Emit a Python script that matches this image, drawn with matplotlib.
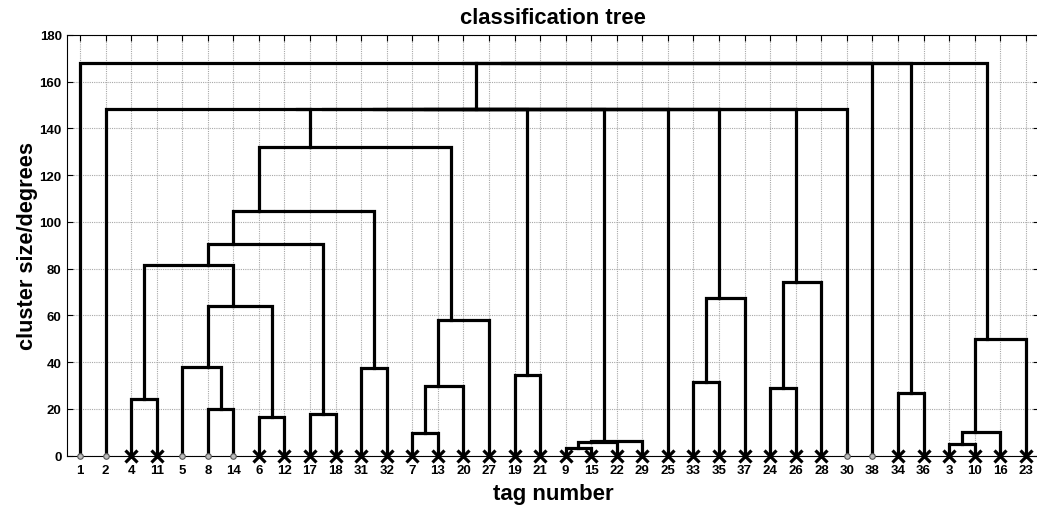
import numpy as np
import matplotlib.pyplot as plt
plt.close('all')
plt.rcParams['font.family'] = ['Liberation Sans', 'DejaVu Sans']
plt.rcParams['font.weight'] = 'bold'

# leaf order along the x axis (tag numbers)
leaf_order = [1, 2, 4, 11, 5, 8, 14, 6, 12, 17, 18, 31, 32, 7, 13, 20, 27,
              19, 21, 9, 15, 22, 29, 25, 33, 35, 37, 24, 26, 28, 30, 38,
              34, 36, 3, 10, 16, 23]

# tags drawn with a small circle instead of a cross
circle_tags = [1, 2, 5, 8, 14, 30, 38]

# merges: (new node, left child, right child, height in degrees)
links = [
    ("c1", 4, 11, 24.3),
    ("c2", 8, 14, 20.0),
    ("c3", 5, "c2", 38.0),
    ("c4", 6, 12, 16.4),
    ("c5", "c3", "c4", 64.2),
    ("c6", "c1", "c5", 81.6),
    ("c7", 17, 18, 18.0),
    ("c8", "c6", "c7", 90.5),
    ("c9", 31, 32, 37.5),
    ("c10", "c8", "c9", 104.8),
    ("c11", 7, 13, 9.7),
    ("c12", "c11", 20, 29.7),
    ("c13", "c12", 27, 58.1),
    ("c14", "c10", "c13", 132.0),
    ("c15", 19, 21, 34.7),
    ("c16", 9, 15, 3.3),
    ("c17", "c16", 22, 6.0),
    ("c18", "c17", 29, 6.4),
    ("c19", 33, 35, 31.7),
    ("c20", "c19", 37, 67.3),
    ("c21", 24, 26, 29.1),
    ("c22", "c21", 28, 74.3),
    ("c23", 2, "c14", 148.4),
    ("c24", "c23", "c15", 148.4),
    ("c25", "c24", "c18", 148.4),
    ("c26", "c25", 25, 148.4),
    ("c27", "c26", "c20", 148.4),
    ("c28", "c27", "c22", 148.4),
    ("c29", "c28", 30, 148.4),
    ("c30", 34, 36, 26.8),
    ("c31", 3, 10, 5.0),
    ("c32", "c31", 16, 10.1),
    ("c33", "c32", 23, 50.1),
    ("c34", 1, "c29", 167.9),
    ("c35", "c34", 38, 167.9),
    ("c36", "c35", "c30", 167.9),
    ("c37", "c36", "c33", 167.9),
]

# -----------------------------
# node positions
# -----------------------------
pos = {tag: i + 1 for i, tag in enumerate(leaf_order)}
members = {tag: [pos[tag]] for tag in leaf_order}
height = {tag: 0.0 for tag in leaf_order}

fig = plt.figure(figsize=(10.37, 5.06), dpi=100)
ax = fig.add_axes([67.2 / 1037, 49.3 / 506, 971.4 / 1037, 420.7 / 506])

for node, a, b, h in links:
    xa = np.mean(members[a])
    xb = np.mean(members[b])
    ax.plot([xa, xa, xb, xb], [height[a], h, h, height[b]],
            color='k', lw=2.3, solid_joinstyle='miter', zorder=3)
    members[node] = members[a] + members[b]
    height[node] = h

# leaf markers
for tag in leaf_order:
    if tag in circle_tags:
        ax.plot(pos[tag], 0, 'o', ms=4, mfc='#bbbbbb', mec='#555555',
                mew=0.8, zorder=5, clip_on=False)
    else:
        ax.plot(pos[tag], 0, 'x', ms=8.5, mec='k', mew=2.3, zorder=5,
                clip_on=False)

ax.set_xlim(0.5, 38.5)
ax.set_ylim(0, 180)
ax.set_xticks(range(1, len(leaf_order) + 1))
ax.set_xticklabels([str(t) for t in leaf_order])
ax.set_yticks(np.arange(0, 181, 20))
ax.tick_params(direction='in', length=4, width=0.8, labelsize=9.5,
               top=True, right=True)
ax.tick_params(axis='x', pad=6)
ax.tick_params(axis='y', pad=4)
ax.grid(True, color='#a8a8a8', ls=(0, (1, 1)), lw=0.8)
ax.set_axisbelow(True)
ax.spines['right'].set_visible(False)

ax.set_title("classification tree", fontsize=15.8, fontweight='bold', pad=9)
ax.set_xlabel("tag number", fontsize=16, fontweight='bold', labelpad=5)
ax.set_ylabel("cluster size/degrees", fontsize=15.7, fontweight='bold', labelpad=1)

fig.savefig("out.png", dpi=100)
